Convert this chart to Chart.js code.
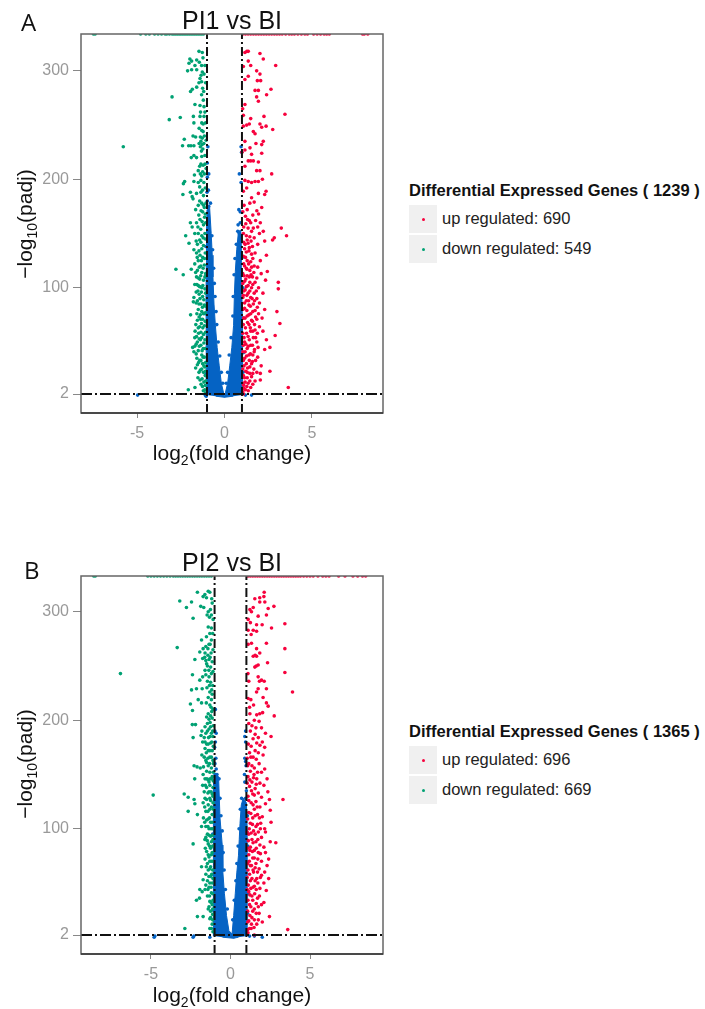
<!DOCTYPE html>
<html>
<head>
<meta charset="utf-8">
<title>Volcano plots</title>
<script src="https://cdn.jsdelivr.net/npm/chart.js@4"></script>
<style>
  html, body { margin: 0; padding: 0; background: #fff; }
  body { position: relative; width: 705px; height: 1009px; overflow: hidden; font-family: "Liberation Sans", Arial, sans-serif; color: #111; }
  canvas { position: absolute; left: 0; }
  .t { position: absolute; white-space: nowrap; }
  .letter { font-family: "Open Sans", sans-serif; font-size: 24px; }
  .title { font-size: 25px; width: 302px; left: 81px; text-align: center; }
  .xlab { font-size: 21px; width: 302px; left: 81px; text-align: center; }
  .xlab sub { font-size: 14px; line-height: 0; }
  .ylab { font-size: 21px; transform: rotate(-90deg); transform-origin: center; width: 160px; text-align: center; left: -55px; }
  .ylab sub { font-size: 14px; line-height: 0; }
  .lgtitle { font-size: 16.5px; font-weight: bold; left: 409px; }
  .key { position: absolute; left: 409px; width: 28px; height: 28px; background: #f0f0f0; }
  .key i { position: absolute; left: 12.5px; top: 12.5px; width: 3px; height: 3px; border-radius: 50%; }
  .lgtext { font-size: 16.5px; left: 442px; color: #222; }
</style>
</head>
<body>
<canvas id="chartA" width="400" height="480" style="top:0"></canvas>
<canvas id="chartB" width="400" height="469" style="top:540px"></canvas>
<div id="labels"></div>
<script>
const xTicks = [-5, 0, 5];
const yTicks = [2, 100, 200, 300];
const lineX = [-1, 1];
const lineY = 2;

const downA = [[-5.79,230],[-3.0,276],[-3.16,255],[-2.53,257],[-1.46,318],[-1.27,317],[-1.98,311],[-2.03,307],[-1.88,309],[-1.59,310],[-1.44,308],[-1.69,305],[-1.31,305],[-1.12,305],[-2.11,300],[-1.88,301],[-1.59,301],[-1.27,299],[-1.17,297],[-1.4,293],[-1.31,290],[-1.46,289],[-1.94,281],[-1.84,283],[-1.59,285],[-1.25,284],[-1.31,278],[-1.21,273],[-1.69,269],[-1.4,268],[-1.17,267],[-1.12,262],[-1.78,258],[-1.4,258],[-1.17,258],[-1.3,252],[-1.75,252],[-1.45,247],[-1.3,245],[-1.22,244],[-1.8,240],[-1.65,239],[-1.38,239],[-1.27,238],[-1.15,240],[-2.3,237],[-2.4,231],[-2.05,231],[-1.92,231],[-1.75,231],[-1.45,233],[-1.38,230],[-1.28,232],[-1.18,233],[-1.05,236],[-1.75,222],[-1.9,220],[-1.6,220],[-1.3,221],[-1.12,222],[-1.42,212],[-1.35,214],[-1.5,208],[-1.25,207],[-1.15,205],[-1.05,210],[-1.72,204],[-2.28,198],[-2.35,196],[-1.75,198],[-1.5,197],[-1.35,199],[-1.18,197],[-2.38,186],[-1.95,188],[-1.85,184],[-1.6,187],[-1.35,188],[-1.2,185],[-1.42,180],[-1.3,178],[-1.5,176],[-1.15,174],[-1.8,182],[-1.65,172],[-1.25,170],[-1.1,168],[-1.95,160],[-1.85,156],[-1.6,160],[-1.4,163],[-1.2,158],[-1.08,160],[-2.22,148],[-1.7,150],[-1.5,150],[-1.3,148],[-1.12,150],[-1.35,142],[-1.55,140],[-1.2,139],[-2.03,141],[-2.78,117],[-2.36,112],[-1.75,135],[-1.6,132],[-1.4,130],[-1.25,128],[-1.1,132],[-1.5,125],[-1.7,122],[-1.35,120],[-1.15,121],[-1.9,117],[-1.55,116],[-1.3,114],[-1.08,113],[-1.6,110],[-1.42,108],[-1.2,107],[-1.7,103],[-1.5,102],[-1.3,100],[-1.12,99],[-1.62,96],[-1.45,94],[-1.25,92],[-1.75,91],[-1.78,87],[-1.55,88],[-1.35,85],[-1.15,84],[-1.5,80],[-1.3,78],[-1.1,77],[-1.94,75],[-1.45,73],[-1.25,71],[-1.32,67],[-1.15,65],[-1.5,63],[-1.68,60],[-1.35,59],[-1.2,57],[-1.6,55],[-1.45,53],[-1.12,52],[-1.55,50],[-1.82,45],[-1.7,46],[-1.35,47],[-1.22,44],[-1.5,42],[-1.62,39],[-1.3,38],[-1.15,36],[-1.42,33],[-1.55,29],[-1.25,30],[-1.12,27],[-1.65,26],[-1.38,24],[-1.2,22],[-1.1,19],[-1.4,15],[-1.52,17],[-2.07,6],[-1.69,8],[-1.21,5],[-1.1,10],[-1.08,3]];
const denseDownA = [[-1.23,312],[-1.34,296],[-1.08,289],[-1.19,281],[-1.37,262],[-1.08,252],[-1.22,251],[-1.35,235],[-1.24,228],[-1.32,226],[-1.12,214],[-1.22,213],[-1.38,205],[-1.3,203],[-1.1,192],[-1.26,190],[-1.42,193],[-1.06,178],[-1.2,176],[-1.34,171],[-1.47,167],[-1.14,165],[-1.28,161],[-1.52,156],[-1.36,154],[-1.09,145],[-1.22,146],[-1.42,144],[-1.62,143],[-1.3,136],[-1.46,134],[-1.14,127],[-1.32,125],[-1.56,128],[-1.22,118],[-1.44,119],[-1.65,114],[-1.12,110],[-1.36,111],[-1.5,109],[-1.24,102],[-1.42,101],[-1.58,103],[-1.08,95],[-1.32,96],[-1.52,97],[-1.18,89],[-1.4,90],[-1.62,86],[-1.08,83],[-1.26,82],[-1.46,85],[-1.2,76],[-1.38,75],[-1.58,76],[-1.1,69],[-1.36,71],[-1.55,70],[-1.24,63],[-1.42,64],[-1.64,66],[-1.08,59],[-1.3,54],[-1.48,58],[-1.7,54],[-1.18,49],[-1.38,52],[-1.62,48],[-1.1,44],[-1.28,42],[-1.44,46],[-1.75,41],[-1.58,35],[-1.22,36],[-1.35,33],[-1.08,31],[-1.48,31],[-1.3,25],[-1.18,28],[-1.46,22],[-1.09,23],[-1.28,16],[-1.18,13],[-1.34,11],[-1.08,14],[-1.26,9],[-1.13,6]];
const upA = [[1.17,317],[1.28,318],[1.36,318],[2.03,316],[2.22,311],[2.93,305],[1.36,309],[1.08,304],[1.5,305],[1.84,300],[2.03,297],[1.36,295],[1.17,292],[1.88,291],[2.07,291],[1.75,282],[1.94,282],[2.66,283],[2.41,278],[1.84,276],[1.94,272],[1.17,269],[1.04,265],[1.08,259],[3.46,260],[2.26,258],[1.5,256],[1.42,251],[2.03,251],[2.38,249],[2.13,248],[2.76,246],[1.08,249],[1.27,250],[1.65,244],[1.75,242],[1.17,235],[2.22,235],[2.13,232],[1.8,233],[1.46,229],[1.0,225],[1.17,227],[1.55,223],[2.13,224],[1.36,217],[1.5,217],[1.65,217],[1.94,216],[1.17,212],[2.7,205],[1.84,208],[2.03,208],[1.17,199],[1.36,198],[1.75,198],[1.55,197],[2.17,200],[1.94,198],[1.27,192],[1.08,189],[2.38,189],[1.94,187],[1.55,183],[2.3,186],[1.45,178],[1.7,179],[2.13,174],[1.3,172],[1.85,171],[1.05,170],[1.2,166],[1.62,167],[1.95,168],[1.42,162],[1.78,162],[2.05,160],[3.25,155],[2.22,152],[1.1,156],[1.35,155],[1.55,152],[1.9,156],[3.55,148],[2.85,146],[1.25,148],[1.45,147],[1.7,146],[2.0,150],[1.1,142],[1.35,141],[1.9,140],[2.3,143],[1.6,138],[2.75,144],[1.15,136],[1.4,134],[1.2,128],[1.55,131],[1.75,132],[2.4,130],[2.05,125],[1.3,125],[1.5,124],[1.1,122],[1.7,120],[1.9,119],[1.25,118],[1.45,116],[2.45,115],[2.1,113],[1.05,113],[1.3,111],[1.6,110],[1.85,109],[3.08,105],[1.15,106],[1.45,105],[1.75,105],[2.35,107],[3.08,99],[1.25,101],[1.55,100],[1.95,100],[1.1,97],[1.35,95],[1.7,95],[2.2,95],[1.5,91],[1.85,90],[1.05,91],[1.25,88],[2.0,86],[1.65,85],[1.4,84],[3.0,78],[1.15,81],[1.75,79],[2.3,80],[1.5,76],[1.95,76],[1.3,74],[1.1,72],[1.85,71],[2.15,72],[3.17,67],[1.6,69],[1.4,66],[2.0,64],[1.2,63],[1.75,61],[1.5,60],[2.2,60],[1.05,58],[2.9,56],[1.35,55],[1.65,54],[2.4,52],[1.15,50],[1.85,50],[1.5,47],[2.6,45],[1.3,44],[2.3,43],[1.05,41],[1.7,41],[1.4,38],[1.9,36],[1.15,35],[1.6,32],[1.25,30],[2.1,28],[1.45,27],[1.05,25],[2.6,23],[2.05,21],[1.3,22],[1.55,18],[1.15,17],[2.05,15],[1.75,14],[1.35,12],[1.1,10],[3.65,8],[1.5,8],[1.2,6],[1.05,4]];
const denseUpA = [[1.12,176],[1.32,163],[1.5,160],[1.22,159],[1.65,155],[1.08,150],[1.3,144],[1.52,143],[1.18,140],[1.42,137],[1.25,133],[1.62,127],[1.08,129],[1.38,122],[1.15,120],[1.55,119],[1.28,117],[1.68,114],[1.12,111],[1.42,110],[1.22,108],[1.52,112],[1.05,104],[1.35,102],[1.62,103],[1.18,98],[1.45,97],[1.82,97],[1.08,93],[1.28,93],[1.58,90],[1.38,88],[1.72,88],[1.15,86],[1.48,83],[1.88,82],[1.05,80],[1.28,79],[1.62,78],[1.4,75],[1.78,73],[1.18,72],[1.55,70],[1.32,68],[1.08,66],[1.72,66],[1.48,63],[1.26,58],[1.62,60],[1.88,58],[1.12,54],[1.42,52],[1.78,54],[1.22,48],[1.6,47],[1.08,47],[1.36,46],[1.92,45],[1.72,43],[1.18,41],[1.48,39],[1.62,38],[1.26,37],[1.08,33],[1.42,33],[1.78,33],[1.55,30],[1.12,28],[1.32,26],[1.68,25],[1.22,23],[1.45,21],[1.85,22],[1.08,19],[1.3,17],[1.62,21],[1.18,13],[1.45,14],[1.05,12],[1.28,9],[1.62,11],[1.12,7],[1.36,5],[1.08,2]];
const topDownA = [-7.5,-7.4,-4.8,-4.5,-4.3,-4.0,-3.8,-3.6,-3.4,-3.3,-3.15,-3.0,-2.9,-2.8,-2.7,-2.6,-2.5,-2.4,-2.3,-2.2,-2.1,-2.0,-1.9,-1.8,-1.7,-1.6,-1.5,-1.4,-1.3,-1.2];
const topUpA = [1.05,1.2,1.35,1.5,1.65,1.8,1.95,2.1,2.25,2.4,2.55,2.7,2.85,3.0,3.15,3.3,3.5,3.7,3.85,4.0,4.2,4.4,4.6,4.75,5.1,5.3,5.5,5.7,5.85,6.0,7.9,8.0,8.2];
const coreLeftA = [[-1.02,1],[-1.04,30],[-1.05,60],[-1.06,90],[-1.04,120],[-1.03,150],[-1.0,172],[-0.85,174],[-0.76,150],[-0.7,130],[-0.66,110],[-0.6,85],[-0.52,65],[-0.42,45],[-0.3,28],[-0.18,12],[-0.05,3],[0,-1],[-0.5,0]];
const coreRightA = [[1.02,1],[1.04,30],[1.03,60],[1.0,90],[0.98,115],[0.95,140],[0.93,153],[0.8,152],[0.7,135],[0.62,115],[0.57,95],[0.52,65],[0.42,45],[0.3,28],[0.18,12],[0.05,3],[0,-1],[0.5,0]];
const strayA = [[-4.97,1],[-1.1,1],[-1.05,0],[1.2,1],[1.55,1],[-0.95,230],[-0.98,215],[-0.9,205],[-0.98,202],[-0.92,190],[-1.0,188],[-0.9,175],[-0.98,180],[0.95,230],[0.98,225],[0.85,205],[0.95,197],[0.82,172],[0.9,170],[0.85,150],[0.9,160],[-0.9,160],[-0.72,148],[-0.68,135],[-0.62,118],[-0.58,104],[-0.54,92],[-0.48,78],[-0.44,66],[-0.36,50],[-0.27,37],[-0.18,22],[-0.1,12],[-1.07,138],[-1.09,110],[-1.1,76],[-1.08,44],[-1.07,20],[0.76,152],[0.68,140],[0.6,127],[0.55,112],[0.5,92],[0.48,74],[0.38,54],[0.27,38],[0.18,22],[0.1,12],[0.95,148],[1.02,128],[1.05,100],[1.07,72],[1.08,40],[1.06,22],[0.78,158],[-0.8,178]];

const downB = [[-6.92,243],[-3.35,267],[-3.19,310],[-2.77,304],[-2.45,309],[-2.35,294],[-2.08,318],[-1.72,314],[-1.61,316],[-1.51,313],[-1.4,319],[-1.3,318],[-1.15,308],[-1.87,305],[-1.68,304],[-1.26,302],[-1.4,300],[-1.2,297],[-1.47,297],[-1.09,293],[-1.4,286],[-1.2,285],[-1.82,274],[-1.51,277],[-1.2,274],[-1.3,280],[-1.93,263],[-1.72,266],[-1.55,268],[-1.35,270],[-1.1,265],[-1.6,262],[-1.42,260],[-1.22,262],[-2.24,256],[-1.75,257],[-1.55,255],[-1.35,256],[-1.15,254],[-1.45,250],[-1.25,249],[-1.6,246],[-1.1,245],[-2.39,242],[-1.75,240],[-1.55,242],[-1.35,240],[-1.93,237],[-1.45,236],[-1.25,235],[-1.12,232],[-2.45,228],[-2.14,229],[-1.78,229],[-1.3,226],[-1.15,224],[-1.4,221],[-2.03,219],[-1.2,219],[-1.52,216],[-1.82,216],[-2.52,215],[-1.3,214],[-2.39,209],[-1.1,210],[-1.4,206],[-1.25,204],[-1.15,202],[-1.35,201],[-2.4,196],[-2.2,196],[-1.6,194],[-1.25,194],[-1.08,195],[-1.8,190],[-1.45,190],[-1.2,188],[-2.35,184],[-1.85,186],[-1.65,184],[-1.38,184],[-1.1,185],[-1.75,180],[-1.5,178],[-1.25,179],[-1.6,174],[-1.4,172],[-1.15,172],[-1.8,168],[-1.3,166],[-1.55,163],[-1.1,163],[-2.29,158],[-1.4,158],[-1.2,156],[-2.1,157],[-1.9,156],[-1.7,157],[-1.5,153],[-1.3,152],[-1.08,152],[-2.25,146],[-1.6,146],[-1.4,145],[-1.2,146],[-1.75,140],[-1.5,138],[-1.3,140],[-1.1,138],[-1.65,134],[-1.35,134],[-1.15,132],[-4.86,131],[-2.91,132],[-2.66,129],[-2.29,127],[-2.24,123],[-1.5,127],[-1.25,126],[-1.72,124],[-1.4,122],[-1.1,124],[-2.66,116],[-1.3,118],[-1.55,116],[-2.08,113],[-1.15,113],[-1.7,110],[-1.4,109],[-1.25,106],[-1.82,102],[-1.55,102],[-1.35,100],[-1.12,100],[-1.45,95],[-1.25,93],[-1.61,90],[-1.1,90],[-2.35,86],[-1.4,86],[-1.25,82],[-1.5,79],[-1.15,78],[-1.35,74],[-1.2,70],[-1.45,68],[-1.82,65],[-1.3,63],[-1.12,62],[-1.55,58],[-1.25,56],[-1.72,53],[-1.45,52],[-1.15,50],[-1.35,46],[-1.93,44],[-1.78,42],[-1.6,44],[-1.2,41],[-1.45,38],[-2.14,34],[-1.95,36],[-1.3,33],[-1.15,30],[-1.4,26],[-1.25,24],[-1.12,21],[-2.08,19],[-1.72,19],[-1.3,17],[-1.15,12],[-2.87,8],[-1.3,8],[-1.1,5]];
const denseDownB = [[-1.18,312],[-1.32,295],[-1.12,280],[-1.28,270],[-1.42,266],[-1.62,258],[-1.28,258],[-1.5,252],[-1.36,246],[-1.2,243],[-1.48,230],[-1.32,232],[-1.18,228],[-1.22,212],[-1.5,203],[-1.18,208],[-1.28,198],[-1.45,197],[-1.12,190],[-1.35,192],[-1.55,188],[-1.28,185],[-1.18,180],[-1.4,178],[-1.6,180],[-1.08,176],[-1.3,172],[-1.52,170],[-1.2,166],[-1.42,165],[-1.65,166],[-1.08,160],[-1.32,160],[-1.5,161],[-1.15,148],[-1.28,146],[-1.48,146],[-1.72,150],[-1.08,144],[-1.35,143],[-1.58,140],[-1.22,134],[-1.42,133],[-1.1,130],[-1.3,128],[-1.6,128],[-1.2,120],[-1.42,116],[-1.62,120],[-1.08,118],[-1.32,110],[-1.5,108],[-1.15,106],[-1.62,106],[-1.42,102],[-1.22,100],[-1.12,94],[-1.34,94],[-1.55,92],[-1.2,88],[-1.46,89],[-1.32,84],[-1.12,84],[-1.58,82],[-1.2,76],[-1.4,76],[-1.3,70],[-1.6,72],[-1.1,70],[-1.25,65],[-1.4,62],[-1.52,65],[-1.18,58],[-1.36,56],[-1.1,54],[-1.3,50],[-1.55,48],[-1.22,46],[-1.42,44],[-1.12,40],[-1.32,38],[-1.1,34],[-1.22,32],[-1.35,28],[-1.12,26],[-1.25,18],[-1.12,16],[-1.2,8]];
const upB = [[2.12,318],[1.53,312],[1.84,313],[2.1,314],[1.84,309],[2.16,309],[1.43,304],[1.22,302],[2.73,305],[2.37,303],[1.32,300],[2.26,297],[1.74,296],[1.11,293],[1.25,290],[3.42,289],[1.64,288],[1.99,288],[2.58,285],[1.43,283],[1.64,282],[1.11,283],[1.3,279],[2.26,271],[1.11,270],[1.32,271],[1.64,266],[3.42,266],[1.84,262],[1.43,259],[1.64,259],[1.55,260],[2.33,253],[1.74,251],[1.53,249],[1.62,250],[3.42,244],[1.1,243],[1.15,236],[1.74,240],[1.82,236],[2.12,236],[1.95,237],[2.26,229],[3.9,226],[1.74,229],[1.64,226],[1.11,220],[1.28,219],[2.05,221],[2.26,216],[1.45,214],[2.37,213],[1.2,212],[1.84,206],[2.02,207],[2.75,204],[1.22,206],[1.65,205],[1.5,200],[1.8,199],[1.15,197],[1.35,195],[1.6,193],[1.95,193],[1.25,190],[1.55,187],[2.2,188],[2.55,185],[1.75,184],[1.42,183],[2.0,180],[1.65,179],[1.85,177],[1.3,176],[2.15,175],[1.55,172],[1.2,170],[1.75,170],[2.05,168],[1.05,165],[1.42,166],[1.62,164],[1.15,160],[1.35,158],[1.8,160],[2.15,155],[1.5,156],[1.25,153],[1.7,152],[1.95,152],[1.1,148],[1.45,147],[2.3,146],[1.65,146],[1.35,143],[1.85,142],[2.1,140],[1.2,139],[1.55,137],[2.35,134],[1.75,133],[1.4,132],[1.1,130],[1.95,129],[2.45,127],[3.3,127],[1.6,125],[1.3,124],[2.2,123],[1.85,120],[1.5,118],[2.5,117],[1.15,115],[1.7,113],[1.4,110],[2.0,111],[1.9,105],[2.55,106],[1.25,105],[1.6,102],[2.15,100],[1.45,98],[1.75,97],[2.2,97],[1.15,95],[1.95,92],[1.35,90],[1.6,88],[2.5,88],[2.85,87],[1.85,85],[2.1,83],[1.25,83],[1.5,80],[1.75,78],[2.2,78],[1.15,76],[2.4,72],[1.4,73],[1.95,70],[1.6,68],[1.25,66],[2.3,66],[1.8,63],[1.1,62],[1.45,60],[2.15,60],[1.95,57],[2.4,54],[1.65,54],[1.25,52],[2.1,50],[1.5,47],[1.85,45],[2.25,43],[1.15,42],[1.35,38],[1.7,36],[2.1,32],[1.95,30],[1.2,30],[1.5,26],[1.8,22],[2.45,19],[1.35,18],[1.15,15],[1.65,12],[2.0,14],[1.3,8],[3.6,7],[1.1,4],[1.5,2]];
const denseUpB = [[1.12,178],[1.28,166],[1.08,158],[1.48,150],[1.22,145],[1.05,142],[1.62,141],[1.32,135],[1.5,131],[1.15,126],[1.42,122],[1.68,120],[1.28,114],[1.55,112],[1.08,109],[1.82,110],[1.38,104],[1.18,100],[1.7,104],[1.05,97],[1.3,96],[1.55,95],[1.88,100],[1.12,89],[1.42,87],[1.72,90],[1.22,80],[1.62,82],[1.08,82],[1.38,79],[1.88,77],[1.5,73],[1.18,70],[1.72,72],[1.32,66],[1.55,64],[1.08,68],[1.42,62],[1.7,60],[1.2,58],[1.88,55],[1.05,55],[1.35,54],[1.55,52],[1.72,50],[1.12,48],[1.42,46],[1.28,45],[1.62,44],[1.05,44],[1.52,40],[1.22,39],[1.82,38],[1.4,34],[1.1,34],[1.62,31],[1.28,28],[1.75,28],[1.08,24],[1.4,24],[1.62,22],[1.22,20],[1.5,16],[1.08,14],[1.32,12],[1.75,16],[1.2,8],[1.48,9],[1.08,7]];
const topDownB = [-8.6,-8.5,-5.2,-5.0,-4.8,-4.6,-4.4,-4.2,-4.0,-3.8,-3.6,-3.45,-3.3,-3.15,-3.0,-2.85,-2.7,-2.55,-2.4,-2.25,-2.1,-1.95,-1.8,-1.65,-1.5,-1.35,-1.2];
const topUpB = [1.1,1.25,1.4,1.55,1.7,1.85,2.0,2.15,2.3,2.45,2.6,2.75,2.9,3.05,3.2,3.35,3.5,3.65,3.8,3.95,4.1,4.25,4.4,4.6,4.8,5.0,5.2,5.5,5.8,6.0,6.2,6.8,7.2,7.7,8.0,8.3,8.5];
const coreLeftB = [[-1.08,1],[-1.08,40],[-1.08,80],[-1.08,110],[-1.05,140],[-1.02,152],[-0.75,148],[-0.66,110],[-0.52,85],[-0.48,60],[-0.38,40],[-0.25,20],[-0.1,6],[0.1,3],[0.2,-1],[-0.5,0]];
const coreRightB = [[1.05,1],[1.06,60],[1.04,100],[1.0,124],[0.8,128],[0.68,122],[0.6,105],[0.55,90],[0.5,75],[0.4,60],[0.3,40],[0.2,20],[0.1,3],[0.2,-1],[0.5,0]];
const strayB = [[-4.8,0],[-4.75,1],[-2.35,0],[-2.3,1],[-1.3,0],[1.5,1],[2.0,0],[1.2,1],[-0.95,210],[-0.98,190],[-0.9,188],[-0.95,180],[-1.0,175],[-0.92,165],[-0.98,160],[-0.95,150],[-0.9,155],[0.95,190],[0.9,185],[0.95,180],[0.9,165],[0.95,162],[0.98,158],[0.88,150],[0.9,143],[1.0,135],[0.95,128],[-0.72,146],[-0.66,128],[-0.6,112],[-0.52,98],[-0.46,78],[-0.4,62],[-0.32,44],[-0.2,26],[-1.1,132],[-1.12,95],[-1.1,58],[-1.1,25],[0.7,128],[0.62,118],[0.54,100],[0.48,84],[0.4,68],[0.34,52],[0.24,34],[0.14,16],[1.06,112],[1.08,84],[1.08,40],[1.07,22],[-0.85,150]];

const upColor = "#f7023d";
const downColor = "#00a173";
const coreColor = "#0563c4";

const frame = {
  id: "frame",
  afterDraw(chart) {
    const { ctx, chartArea: a } = chart;
    ctx.save();
    ctx.lineWidth = 1.5;
    ctx.strokeStyle = "#666";
    ctx.strokeRect(a.left, a.top, a.right - a.left, a.bottom - a.top);
    ctx.strokeStyle = "#333";
    ctx.beginPath();
    ctx.moveTo(a.left, a.bottom);
    ctx.lineTo(a.right, a.bottom);
    ctx.stroke();
    ctx.restore();
  },
};

function points(data, color, order) {
  return {
    data: data.map(([x, y]) => ({ x, y })),
    showLine: false,
    pointRadius: 1.8,
    pointBorderWidth: 0,
    pointBackgroundColor: color,
    order,
  };
}

function topStrip(xs, y, color) {
  return points(xs.map((x) => [x, y]), color, 1);
}

function core(data) {
  return {
    data: data.map(([x, y]) => ({ x, y })),
    showLine: true,
    fill: "shape",
    tension: 0,
    backgroundColor: coreColor,
    borderColor: coreColor,
    borderWidth: 1,
    pointRadius: 0,
    order: 3,
  };
}

function guide(data, dash) {
  return {
    data,
    showLine: true,
    borderColor: "#111",
    borderWidth: 2,
    borderDash: dash,
    pointRadius: 0,
    order: 0,
  };
}

function volcano(id, p) {
  const guides = lineX.map((x) => guide([{ x, y: p.yMin }, { x, y: p.yMax }], [9, 3, 2, 3]));
  guides.push(guide([{ x: p.xMin, y: lineY }, { x: p.xMax, y: lineY }], [11, 3, 2, 3]));
  new Chart(document.getElementById(id), {
    type: "scatter",
    data: {
      datasets: [
        ...guides,
        points(p.up, upColor, 1),
        points(p.down, downColor, 1),
        topStrip(p.topUp, p.yMax, upColor),
        topStrip(p.topDown, p.yMax, downColor),
        points(p.stray, coreColor, 2),
        core(p.coreLeft),
        core(p.coreRight),
      ],
    },
    options: {
      responsive: false,
      animation: false,
      layout: { padding: { top: p.top, right: 17, left: 0, bottom: 0 } },
      plugins: { legend: { display: false }, tooltip: { enabled: false } },
      scales: {
        x: {
          type: "linear",
          min: p.xMin,
          max: p.xMax,
          afterBuildTicks: (s) => { s.ticks = xTicks.map((value) => ({ value })); },
          afterFit: (s) => { s.height = p.xAxisH; },
          grid: { drawOnChartArea: false, color: "#888", tickLength: 5 },
          border: { display: false },
          ticks: { color: "#999", font: { family: "Liberation Sans", size: 16 }, maxRotation: 0, padding: 6 },
        },
        y: {
          min: p.yMin,
          max: p.yMax,
          afterBuildTicks: (s) => { s.ticks = yTicks.map((value) => ({ value })); },
          afterFit: (s) => { s.width = 81; },
          grid: { drawOnChartArea: false, color: "#888", tickLength: 8 },
          border: { display: false },
          ticks: { color: "#999", font: { family: "Liberation Sans", size: 16 }, padding: 4 },
        },
      },
    },
    plugins: [frame],
  });
}

volcano("chartA", { xMin: -8.21, xMax: 9.07, yMin: -15.5, yMax: 334, top: 34, xAxisH: 67, up: upA.concat(denseUpA), down: downA.concat(denseDownA), topUp: topUpA, topDown: topDownA, coreLeft: coreLeftA, coreRight: coreRightA, stray: strayA });
volcano("chartB", { xMin: -9.4, xMax: 9.59, yMin: -15.5, yMax: 333, top: 36, xAxisH: 55, up: upB.concat(denseUpB), down: downB.concat(denseDownB), topUp: topUpB, topDown: topDownB, coreLeft: coreLeftB, coreRight: coreRightB, stray: strayB });

const panels = [
  { letter: "A", letterX: 21, letterY: 5, name: "PI1 vs BI", titleY: 6, xlabY: 441, ylabY: 212, total: 1239, up: 690, down: 549, legendY: 181 },
  { letter: "B", letterX: 24, letterY: 553, name: "PI2 vs BI", titleY: 548, xlabY: 983, ylabY: 752, total: 1365, up: 696, down: 669, legendY: 722 },
];

document.getElementById("labels").innerHTML = panels.map((p) => `
  <div class="t letter" style="left:${p.letterX}px;top:${p.letterY}px">${p.letter}</div>
  <div class="t title" style="top:${p.titleY}px">${p.name}</div>
  <div class="t xlab" style="top:${p.xlabY}px">log<sub>2</sub>(fold change)</div>
  <div class="t ylab" style="top:${p.ylabY}px">−log<sub>10</sub>(padj)</div>
  <div class="t lgtitle" style="top:${p.legendY}px">Differential Expressed Genes ( ${p.total} )</div>
  <div class="key" style="top:${p.legendY + 24}px"><i style="background:${upColor}"></i></div>
  <div class="key" style="top:${p.legendY + 54}px"><i style="background:${downColor}"></i></div>
  <div class="t lgtext" style="top:${p.legendY + 28}px">up regulated: ${p.up}</div>
  <div class="t lgtext" style="top:${p.legendY + 58}px">down regulated: ${p.down}</div>`).join("");
</script>
</body>
</html>
